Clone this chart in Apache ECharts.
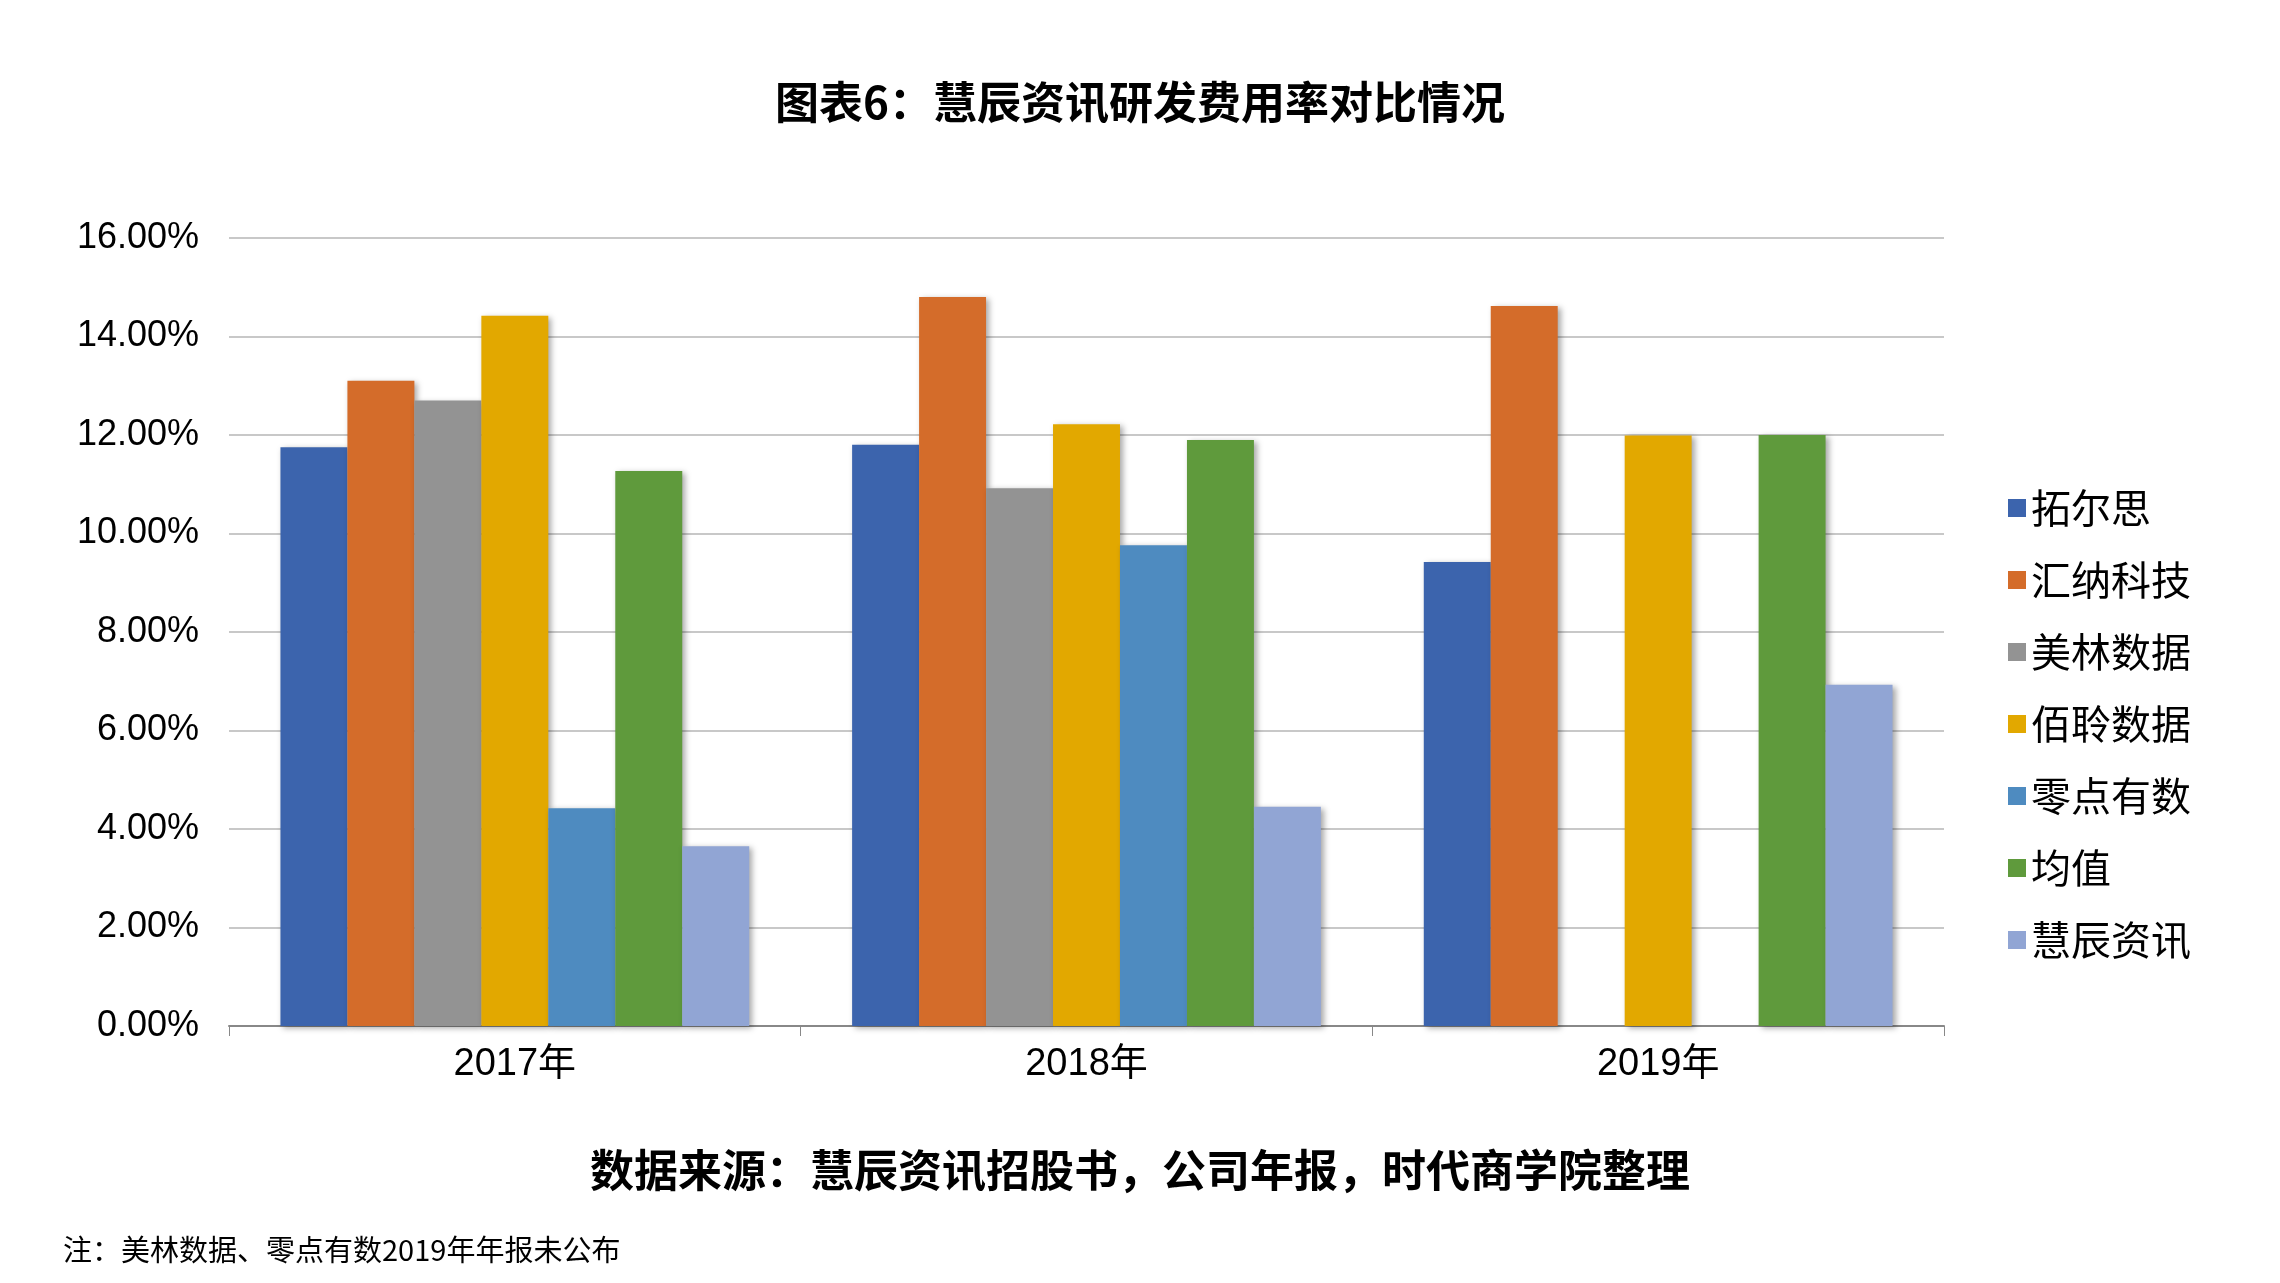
<!DOCTYPE html>
<html>
<head>
<meta charset="utf-8">
<script src="https://cdn.jsdelivr.net/npm/echarts@6/dist/echarts.min.js"></script>
<style>
html, body { margin: 0; padding: 0; background: #fff; }
#main { width: 2280px; height: 1283px; }
</style>
</head>
<body>
<div id="main"></div>
<script>
var categories = ['2017年', '2018年', '2019年'];
var seriesNames = ['拓尔思', '汇纳科技', '美林数据', '佰聆数据', '零点有数', '均值', '慧辰资讯'];
var tuoersi = [11.75, 11.8, 9.42];
var huina = [13.1, 14.8, 14.62];
var meilin = [12.7, 10.92, null];
var bailing = [14.42, 12.22, 11.99];
var lingdian = [4.42, 9.76, null];
var junzhi = [11.27, 11.9, 12.0];
var huichen = [3.65, 4.45, 6.93];
var yTicks = [0, 2, 4, 6, 8, 10, 12, 14, 16];
var colors = ['#3C64AD', '#D46C2A', '#939393', '#E2A800', '#4E8BC0', '#5F9A3C', '#91A5D4'];

var allData = [tuoersi, huina, meilin, bailing, lingdian, junzhi, huichen];
var font = 'Liberation Sans, Noto Sans CJK SC, sans-serif';

var chart = echarts.init(document.getElementById('main'));
var series = [];
$each = null;
for (var i = 0; i < seriesNames.length; i++) {
    series.push({
        name: seriesNames[i],
        type: 'bar',
        data: allData[i],
        barGap: '0%',
        barCategoryGap: '18%',
        itemStyle: {
            color: colors[i],
            shadowColor: 'rgba(0,0,0,0.35)',
            shadowBlur: 6,
            shadowOffsetX: 3,
            shadowOffsetY: 2
        }
    });
}
var option = {
    animation: false,
    textStyle: { fontFamily: font },
    title: [
        { text: '图表6：慧辰资讯研发费用率对比情况', left: 'center', top: 75,
          textStyle: { fontSize: 44, fontWeight: 'bold', color: '#000', fontFamily: 'Noto Sans CJK SC' } },
        { text: '数据来源：慧辰资讯招股书，公司年报，时代商学院整理', left: 'center', top: 1143,
          textStyle: { fontSize: 44, fontWeight: 'bold', color: '#000', fontFamily: 'Noto Sans CJK SC' } },
        { text: '注：美林数据、零点有数2019年年报未公布', left: 58, top: 1230,
          textStyle: { fontSize: 29, fontWeight: 'normal', color: '#000', fontFamily: 'Noto Sans CJK SC' } }
    ],
    legend: {
        orient: 'vertical',
        left: 2003,
        top: 483,
        itemWidth: 18,
        itemHeight: 18,
        itemGap: 32,
        icon: 'rect',
        textStyle: { fontSize: 40, color: '#000', fontFamily: 'Noto Sans CJK SC' },
        data: seriesNames
    },
    grid: { left: 229, right: 336, top: 238, bottom: 257 },
    xAxis: {
        type: 'category',
        data: categories,
        axisLine: { lineStyle: { color: '#888', width: 2 } },
        axisTick: { show: true, length: 10, lineStyle: { color: '#888' } },
        axisLabel: { fontSize: 38, color: '#000', margin: 20 }
    },
    yAxis: {
        type: 'value',
        min: yTicks[0],
        max: yTicks[yTicks.length - 1],
        interval: 2,
        axisLine: { show: false },
        axisTick: { show: false },
        splitLine: { lineStyle: { color: '#C8C8C8', width: 2 } },
        axisLabel: { fontSize: 36, color: '#000', margin: 30,
            formatter: function (v) { return v.toFixed(2) + '%'; } }
    },
    series: series
};
chart.setOption(option);
</script>
</body>
</html>
